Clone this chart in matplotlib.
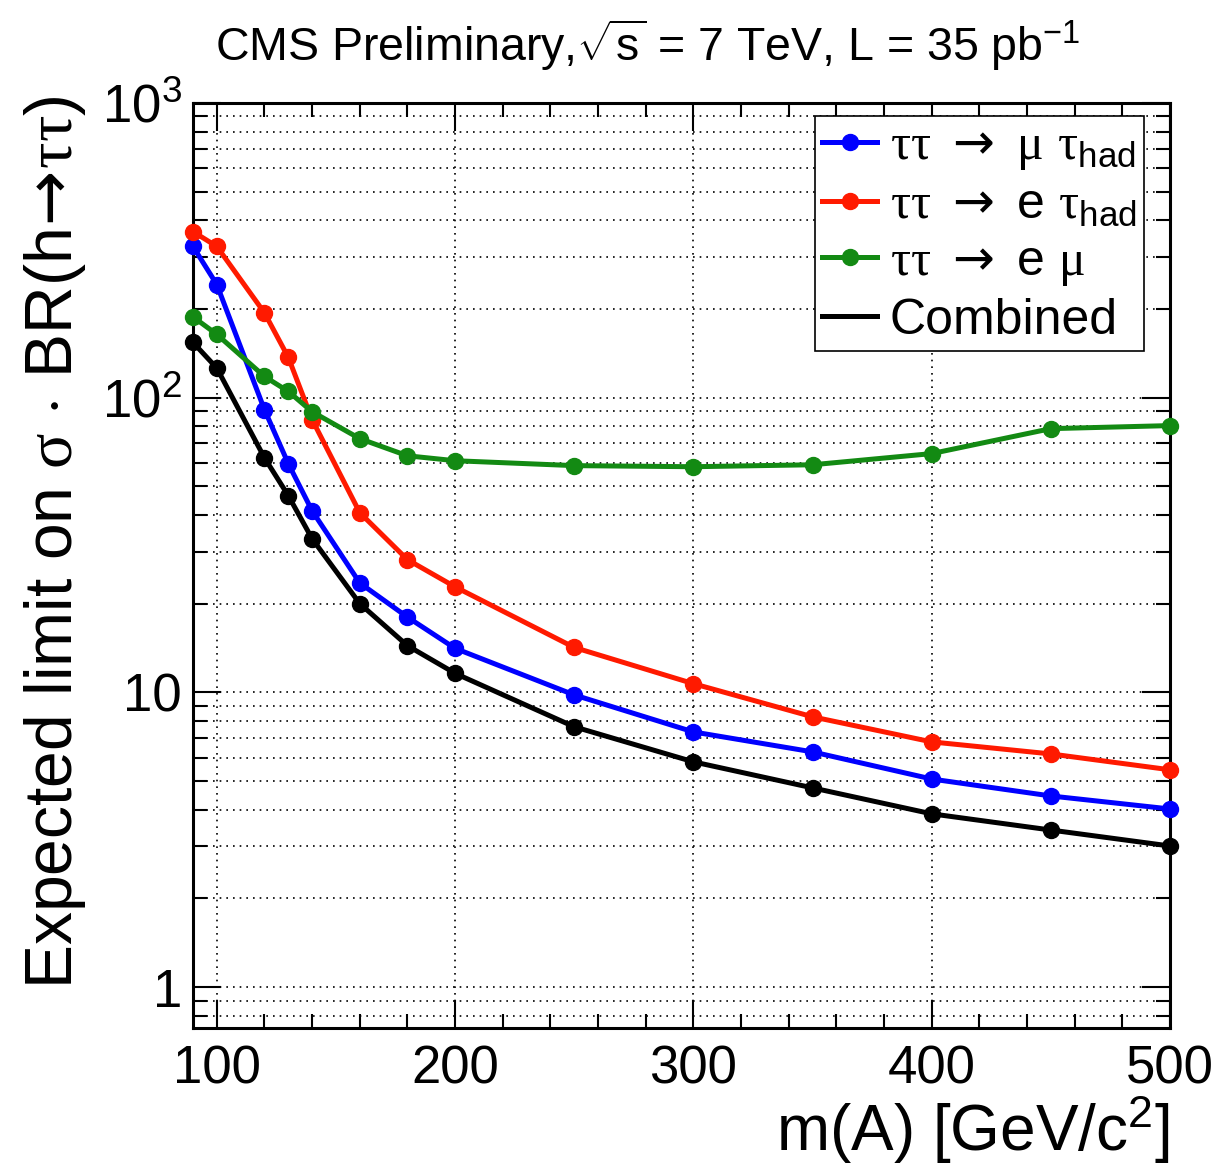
import matplotlib
matplotlib.use("Agg")
import matplotlib.pyplot as plt
from matplotlib.lines import Line2D
from matplotlib.ticker import FixedLocator, NullFormatter, LogLocator

plt.rcParams['font.family'] = ['Liberation Sans', 'DejaVu Sans']
plt.rcParams['mathtext.fontset'] = 'custom'
plt.rcParams['mathtext.rm'] = 'Liberation Sans'
plt.rcParams['mathtext.it'] = 'Liberation Sans:italic'
plt.rcParams['mathtext.sf'] = 'Liberation Serif'
plt.rcParams['mathtext.tt'] = 'DejaVu Sans'
plt.rcParams['mathtext.cal'] = 'Liberation Serif'

mass = [90, 100, 120, 130, 140, 160, 180, 200, 250, 300, 350, 400, 450, 500]
mu_tau = [326, 242, 91, 59.7, 41.3, 23.5, 18.0, 14.1, 9.8, 7.34, 6.28, 5.08, 4.45, 4.02]
e_tau = [366, 326, 194, 137, 84.2, 40.7, 28.2, 22.8, 14.2, 10.7, 8.26, 6.79, 6.18, 5.46]
e_mu = [188, 164, 118, 105, 89.6, 72.6, 63.5, 61.1, 58.8, 58.3, 59.2, 64.6, 78.5, 80.4]
combined = [154, 126, 62.5, 46.5, 33.2, 20.0, 14.4, 11.6, 7.64, 5.81, 4.74, 3.87, 3.41, 3.01]

labels = [r'$\mathsf{\tau\tau}\ \mathtt{\rightarrow}\ \mathsf{\mu}\ \mathsf{\tau}_{\mathrm{had}}$',
          r'$\mathsf{\tau\tau}\ \mathtt{\rightarrow}\ \mathrm{e}\ \mathsf{\tau}_{\mathrm{had}}$',
          r'$\mathsf{\tau\tau}\ \mathtt{\rightarrow}\ \mathrm{e}\ \mathsf{\mu}$',
          'Combined']
colors = ['#0000ff', '#ff1a00', '#138a13', '#000000']
series = [mu_tau, e_tau, e_mu, combined]

xticks = [100, 200, 300, 400, 500]
yticks = [1, 10, 100, 1000]
ytick_labels = ['1', '10', r'$10^{2}$', r'$10^{3}$']

fig = plt.figure(figsize=(12.23, 11.66), dpi=100)
ax = fig.add_axes([193/1223, 1-1028/1166, (1170-193)/1223, (1028-103)/1166])

for ys, c in zip(series, colors):
    ax.plot(mass, ys, color=c, lw=3.6, marker='o', ms=11.5, zorder=3,
            solid_joinstyle='round', clip_on=False)

ax.set_yscale('log')
ax.set_xlim(90, 500)
ax.set_ylim(0.726, 1000)

ax.xaxis.set_major_locator(FixedLocator(xticks))
ax.set_xticklabels([str(v) for v in xticks])
ax.xaxis.set_minor_locator(FixedLocator(list(range(100, 500, 20))))
ax.yaxis.set_major_locator(FixedLocator(yticks))
ax.set_yticklabels(ytick_labels)
ax.yaxis.set_minor_locator(LogLocator(base=10, subs=range(2, 10)))
ax.yaxis.set_minor_formatter(NullFormatter())

ax.tick_params(which='both', direction='in', top=True, right=True, width=1.5)
ax.tick_params(which='major', length=20, labelsize=38, pad=12)
ax.tick_params(which='minor', length=10)
ax.tick_params(axis='y', which='major', pad=8)
for s in ax.spines.values():
    s.set_linewidth(2.2)

ax.grid(True, which='major', axis='x', color='black', linestyle=(0, (1, 3)), lw=1.2)
ax.grid(True, which='both', axis='y', color='black', linestyle=(0, (1, 3)), lw=1.2)

handles = [Line2D([], [], color=colors[0], lw=3.6, marker='o', ms=11.5),
           Line2D([], [], color=colors[1], lw=3.6, marker='o', ms=11.5),
           Line2D([], [], color=colors[2], lw=3.6, marker='o', ms=11.5),
           Line2D([], [], color=colors[3], lw=3.6)]
leg = ax.legend(handles, labels, loc='upper right', bbox_to_anchor=(1144/1223, 1-116/1166),
                bbox_transform=fig.transFigure, fontsize=36, frameon=True, fancybox=False,
                edgecolor='black', framealpha=1, handlelength=1.1, handletextpad=0.25,
                borderpad=0.15, labelspacing=0.2, borderaxespad=0)
leg.get_frame().set_linewidth(1.2)

fig.text(648/1223, 1-45/1166, r'CMS Preliminary,$\sqrt{\mathrm{s}}$ = 7 TeV, L = 35 pb$^{\mathrm{-1}}$',
         ha='center', va='center', fontsize=33.5)
fig.text(55/1223, 1-95/1166,
         r'Expected limit on $\mathsf{\sigma}$ $\cdot$ BR(h$\!\mathtt{\rightarrow}\!\mathsf{\tau\tau}$)',
         rotation=90, ha='center', va='top', fontsize=47.5)
fig.text(1170/1223, 1-1130/1166, r'm(A) [GeV/c$^{2}$]', ha='right', va='center', fontsize=46)

fig.savefig('out.png', dpi=100)
